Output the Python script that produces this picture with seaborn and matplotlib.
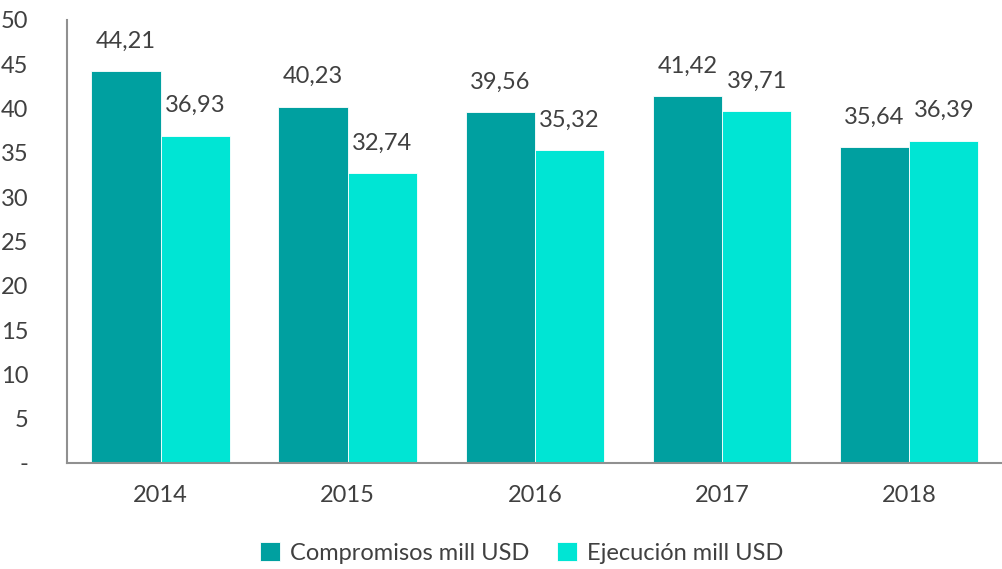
import pandas as pd
import numpy as np
import matplotlib
matplotlib.use("Agg")
import matplotlib.pyplot as plt
import seaborn as sns

# Data
years = ["2014", "2015", "2016", "2017", "2018"]
compromisos = [44.21, 40.23, 39.56, 41.42, 35.64]
ejecucion = [36.93, 32.74, 35.32, 39.71, 36.39]
series_names = ["Compromisos mill USD", "Ejecución mill USD"]
yticks = [0, 5, 10, 15, 20, 25, 30, 35, 40, 45, 50]
ytick_labels = ["-", "5", "10", "15", "20", "25", "30", "35", "40", "45", "50"]

df = pd.DataFrame({
    "Year": years * 2,
    "Value": compromisos + ejecucion,
    "Serie": [series_names[0]] * 5 + [series_names[1]] * 5,
})

sns.set_style("white")
plt.rcParams["font.family"] = ["Lato", "DejaVu Sans"]
text_col = "#404040"
colors = ["#00A0A0", "#00E5D4"]
fs = 17

fig = plt.figure(figsize=(10.03, 5.69), dpi=100)
ax = fig.add_axes([0.0668, 0.1863, 0.933, 0.7786])

sns.barplot(data=df, x="Year", y="Value", hue="Serie", palette=colors,
            width=0.74, saturation=1, edgecolor="white", linewidth=0.6,
            ax=ax, legend=True)

# Data labels
for cont in ax.containers:
    labels = [f"{v:.2f}".replace(".", ",") for v in cont.datavalues]
    ax.bar_label(cont, labels=labels, padding=14, fontsize=fs, color=text_col)

ax.set_xlim(-0.5, 4.5)
ax.set_ylim(0, 50)
ax.set_yticks(yticks)
ax.set_yticklabels(ytick_labels)
ax.set_xlabel("")
ax.set_ylabel("")
ax.tick_params(axis="both", length=0, labelsize=fs, colors=text_col)
ax.tick_params(axis="x", pad=16)
ax.tick_params(axis="y", pad=28)

for side in ["top", "right"]:
    ax.spines[side].set_visible(False)
for side in ["left", "bottom"]:
    ax.spines[side].set_color("#909090")
    ax.spines[side].set_linewidth(1.5)

handles, labels = ax.get_legend_handles_labels()
ax.get_legend().remove()
fig.legend(handles, labels, loc="center", bbox_to_anchor=(0.52, 0.028), ncol=2,
           frameon=False, fontsize=fs, labelcolor=text_col,
           handlelength=0.85, handleheight=0.85, handletextpad=0.4,
           columnspacing=1.2)

plt.savefig("out.png", dpi=100)
